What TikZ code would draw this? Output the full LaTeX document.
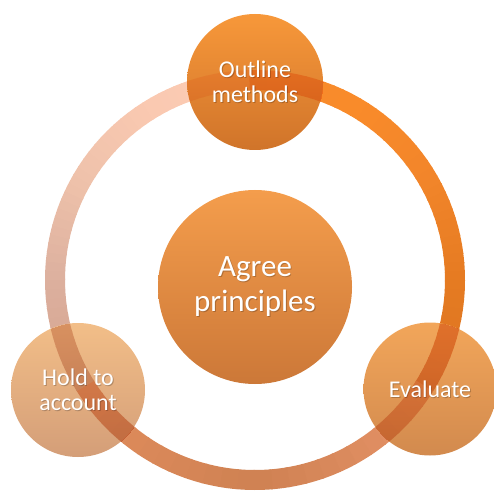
\documentclass[tikz,border=0pt]{standalone}
\usepackage{fontspec}
\setmainfont{Carlito}
% ring colour stops
\definecolor{rA0}{HTML}{F68A2E}
\definecolor{rA1}{HTML}{F98B2A}
\definecolor{rA2}{HTML}{F2852A}
\definecolor{rA3}{HTML}{E57B22}
\definecolor{rA4}{HTML}{DC7422}
\definecolor{rB1}{HTML}{E8956A}
\definecolor{rB2}{HTML}{CF8152}
\definecolor{rB3}{HTML}{E28E5E}
\definecolor{rC1}{HTML}{D5A28E}
\definecolor{rC2}{HTML}{DCB09E}
\definecolor{rC3}{HTML}{EFC2AB}
\definecolor{rC4}{HTML}{FAC9B1}
\definecolor{rC5}{HTML}{FCCDB6}
% the cycle ring, drawn as short arcs with blended colours
\newcommand\cyclering{%
  \foreach \a/\b/\ca/\cb in {92/60/rA0/rA1, 60/30/rA1/rA2, 30/0/rA2/rA3, 0/-32/rA3/rA4,
    -32/-90/rB1/rB2, -90/-148/rB2/rB3,
    -148/-180/rC1/rC2, -180/-210/rC2/rC3, -210/-240/rC3/rC4, -240/-268/rC4/rC5}
  {
    \foreach \i in {0,...,11}{
      \pgfmathsetmacro\s{\a+(\b-\a)*\i/12}
      \pgfmathsetmacro\e{\a+(\b-\a)*(\i+1)/12-0.4}
      \pgfmathsetmacro\p{100-(\i+0.5)*100/12}
      \draw[ringpart, draw=\ca!\p!\cb] ([shift={(\s:200)}]ring) arc[start angle=\s, end angle=\e, radius=200];
    }
  }%
}
\begin{document}
\begin{tikzpicture}[x=1pt,y=1pt,
  ringpart/.style={line width=20pt},
  bubble/.style={circle, inner sep=0pt, minimum size=#1},
  txt/.style={text=white, align=center, font=\fontsize{24}{25}\selectfont},
  bigtxt/.style={text=white, align=center, font=\fontsize{31}{35}\selectfont},
  shadowed/.style={text=black, opacity=0.22}
]
\useasboundingbox (0,0) rectangle (494,490);
\coordinate (ring) at (255,210);

\cyclering

% bubbles
\node[bubble=136pt, top color={rgb,255:red,247;green,152;blue,58}, bottom color={rgb,255:red,208;green,116;blue,42}] (outline) at (255,408) {};
\node[bubble=194pt, top color={rgb,255:red,244;green,157;blue,76}, bottom color={rgb,255:red,204;green,120;blue,56}] (agree) at (255,203) {};
\node[bubble=134pt, top color={rgb,255:red,242;green,190;blue,136}, bottom color={rgb,255:red,212;green,158;blue,120}] (hold) at (78,100) {};
\node[bubble=133pt, top color={rgb,255:red,242;green,166;blue,90}, bottom color={rgb,255:red,210;green,138;blue,78}] (evaluate) at (430,101) {};

% the ring shows through each bubble
\foreach \n/\r/\op in {outline/68/0.45, hold/67/0.7, evaluate/66.5/0.6}{
  \begin{scope}
    \clip (\n) circle[radius=\r];
    \begin{scope}[transparency group, blend mode=multiply, opacity=\op]
      \cyclering
    \end{scope}
  \end{scope}
}

% labels with a soft shadow
\foreach \n/\t/\s in {outline/{Outline\\methods}/txt, hold/{Hold to\\account}/txt, evaluate/{Evaluate}/txt, agree/{Agree\\principles}/bigtxt}{
  \node[\s, shadowed] at ([shift={(0.9,-0.9)}]\n) {\t};
  \node[\s] (\n-label) at (\n) {\t};
}
\end{tikzpicture}
\end{document}
